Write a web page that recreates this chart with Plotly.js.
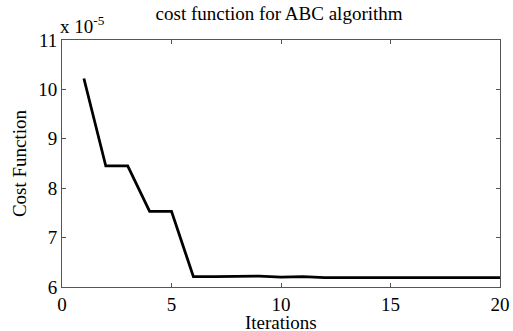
<!DOCTYPE html>
<html>
<head>
<meta charset="utf-8">
<script src="https://cdn.plot.ly/plotly-3.0.1.min.js"></script>
<style>html,body{margin:0;padding:0;background:#fff;}#chart{width:513px;height:331px;}</style>
</head>
<body>
<div id="chart"></div>
<script>
const iterations = [1,2,3,4,5,6,7,8,9,10,11,12,13,14,15,16,17,18,19,20];
const costValues = [10.22,8.45,8.45,7.53,7.53,6.21,6.21,6.21,6.22,6.20,6.21,6.19,6.19,6.19,6.19,6.19,6.19,6.19,6.19,6.19];
const xTicks = [0,5,10,15,20];
const yTicks = [6,7,8,9,10,11];

const font = {family: '"Liberation Serif", "Times New Roman", serif', size: 19, color: '#000'};
const axisCommon = {
  showgrid: false, zeroline: false, showline: true, linecolor: '#555', linewidth: 1,
  mirror: 'ticks', ticks: 'inside', ticklen: 4, tickcolor: '#555', tickfont: font
};
Plotly.newPlot('chart', [{
  x: iterations, y: costValues, mode: 'lines', type: 'scatter',
  line: {color: '#000', width: 2.8}
}], {
  width: 513, height: 331,
  margin: {l: 62, r: 13, t: 40, b: 44},
  paper_bgcolor: '#fff', plot_bgcolor: '#fff',
  font: font, showlegend: false,
  title: {text: 'cost function for ABC algorithm', font: font, x: 0.544, xanchor: 'center', y: 0.96, yanchor: 'middle'},
  xaxis: Object.assign({}, axisCommon, {range: [0, 20], tickvals: xTicks}),
  yaxis: Object.assign({}, axisCommon, {range: [6, 11], tickvals: yTicks,
    title: {text: 'Cost Function', font: font, standoff: 6}}),
  annotations: [{
    xref: 'paper', yref: 'paper', x: 0, y: 1, xanchor: 'left', yanchor: 'bottom',
    xshift: -4, yshift: 1, text: 'x 10<sup>-5</sup>', showarrow: false, font: font
  }, {
    xref: 'paper', yref: 'paper', x: 0.5, y: 0, xanchor: 'center', yanchor: 'middle',
    yshift: -35, text: 'Iterations', showarrow: false, font: font
  }]
}, {staticPlot: true, displayModeBar: false});
</script>
</body>
</html>
